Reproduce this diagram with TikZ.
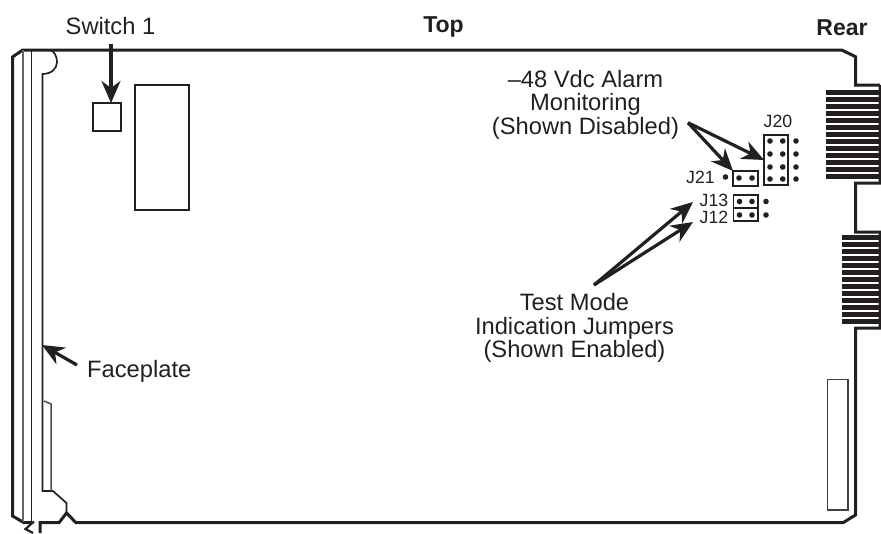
\documentclass[tikz,border=0pt]{standalone}
\usepackage{fontspec}
\setmainfont{Liberation Sans}
\usetikzlibrary{arrows.meta,calc}
\definecolor{ink}{HTML}{231F20}
\tikzset{
  x=1pt,y=-1pt,
  outline/.style={draw=ink,line width=3pt,line join=miter},
  thinline/.style={draw=ink,line width=1.7pt,line join=miter},
  greyline/.style={draw=black!60,line width=2pt},
  callout/.style={draw=ink,line width=3.2pt,-{Stealth[length=22pt,width=19pt,inset=7pt]}},
  label/.style={font=\fontsize{23.7}{23.6}\selectfont,text=ink,inner sep=0pt,align=center},
  headlabel/.style={font=\fontsize{23}{23.6}\selectfont\bfseries,text=ink,inner sep=0pt},
  small/.style={font=\fontsize{17.7}{18}\selectfont,text=ink,inner sep=0pt},
  boxn/.style={draw=ink,line width=1.6pt,inner sep=0pt,outer sep=0pt,fill=white},
  partbox/.style={draw=ink,line width=2.4pt,inner sep=0pt,outer sep=0pt},
  pin/.style={circle,fill=ink,inner sep=0pt,minimum size=5.6pt},
  tooth/.style={fill=ink,draw=none}
}
\begin{document}
\begin{tikzpicture}
\useasboundingbox (0,0) rectangle (881,533);
% board outline
\draw[outline] (880,85) -- (855.5,85) -- (855.5,56.7) -- (841.7,50) -- (22.7,50) -- (12.5,57) -- (12.5,516) -- (24,522.7) -- (31.5,522.7);
\draw[outline,line width=2.2pt] (34,521.5) -- (25.5,529) -- (33,533);
\draw[outline] (40,533) -- (40,522.7) -- (59,522.7) -- (66.5,513) -- (76,522.7) -- (843,522.7) -- (855.5,515) -- (855.5,328) -- (880,328) -- (880,232) -- (855.5,232) -- (855.5,183) -- (880,183) -- (880,85);
% faceplate
\draw[greyline] (23,50) -- (23,522);
\draw[thinline] (31.5,50) -- (31.5,522);
\draw[thinline] (50,50) .. controls (54,51) and (57,56) .. (57,62) .. controls (57,69) and (51,74) .. (42.5,74) -- (42.5,491) -- (53,491) -- (66.5,503) -- (66.5,513);
\draw[draw=black!70,line width=1.5pt] (51,491) -- (51,404) -- (44,401);
% rear connectors
\foreach \i in {0,...,12}{
  \fill[tooth] (825.5,{90+7*\i}) rectangle (880,{95.2+7*\i});
  \fill[tooth] (841.5,{235+7*\i}) rectangle (880,{240.2+7*\i});
}
% components
\node[partbox,minimum width=27.5pt,minimum height=28pt] (sw) at (107,117) {};
\node[partbox,minimum width=54pt,minimum height=125pt] (chip) at (162,147.5) {};
\node[draw=black!75,line width=1.5pt,inner sep=0pt,outer sep=0pt,minimum width=20.5pt,minimum height=130.5pt] (slot) at (837.7,444.7) {};
% jumpers
\node[boxn,minimum width=24pt,minimum height=50pt] (j20) at (776,160) {};
\node[boxn,minimum width=25pt,minimum height=15pt] (j21) at (745.5,178.5) {};
\node[boxn,minimum width=24.5pt,minimum height=13pt] (j13) at (745.7,201.5) {};
\node[boxn,minimum width=24.5pt,minimum height=13pt] (j12) at (745.7,214.5) {};
\foreach \y [count=\n] in {141,154,167,179}{
  \node[pin] (a\n) at (770,\y) {};
  \node[pin] (b\n) at (782.7,\y) {};
  \node[pin] (c\n) at (796,\y) {};
}
\node[pin] (d1) at (725.5,177) {};
\node[pin] (d2) at (739,178) {};
\node[pin] (d3) at (752,178) {};
\node[pin] (e1) at (739.5,201.5) {};
\node[pin] (e2) at (752,201.5) {};
\node[pin] (e3) at (766,201.5) {};
\node[pin] (f1) at (739.5,215) {};
\node[pin] (f2) at (752,215) {};
\node[pin] (f3) at (766,215) {};
% labels
\node[label] (switch) at (110.5,26) {Switch 1};
\node[headlabel] (top) at (443.5,26.5) {Top};
\node[headlabel] (rear) at (842,27.5) {Rear};
\node[label] (alarm) at (585.5,104.5) {--48 Vdc Alarm\\Monitoring\\(Shown Disabled)};
\node[label] (test) at (574.5,328) {Test Mode\\Indication Jumpers\\(Shown Enabled)};
\node[label,anchor=west] (face) at (87,371) {Faceplate};
\node[small,anchor=base] (l20) at (778,127) {J20};
\node[small,anchor=base] (l21) at (700.5,183) {J21};
\node[small,anchor=base] (l13) at (714,206.5) {J13};
\node[small,anchor=base] (l12) at (714,223.5) {J12};
% connectors
\coordinate (switchfoot) at (111,44);
\coordinate (alarmfoot) at (688,122.7);
\coordinate (testfoot) at (594,285);
\coordinate (facefoot) at (77,365);
\draw[callout] (switchfoot) -- ([xshift=4pt]sw.north);
\draw[callout] (alarmfoot) -- (j20.west);
\draw[callout] (alarmfoot) -- (j21.north west);
\draw[callout] (testfoot) -- (693,202);
\draw[callout] (testfoot) -- (693,222);
\draw[callout] (facefoot) -- (42,345);
\end{tikzpicture}
\end{document}
